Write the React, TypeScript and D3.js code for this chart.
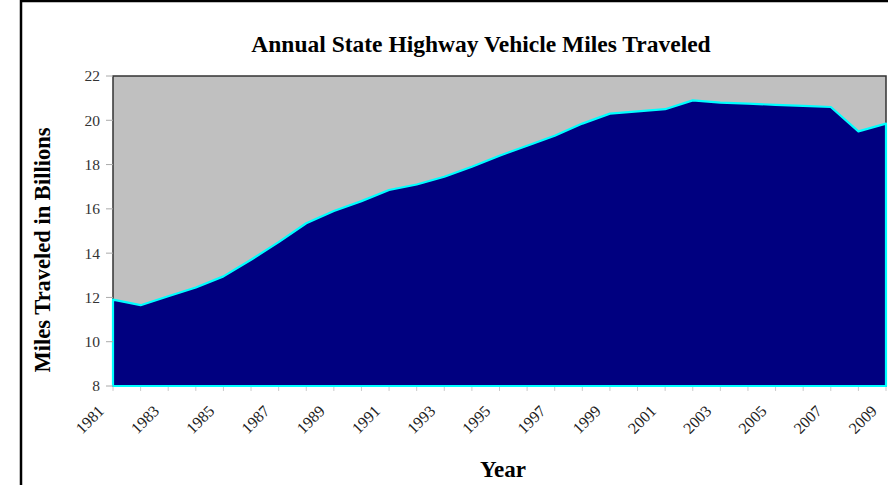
import React, { useEffect, useRef } from 'react';
import * as d3 from 'd3';

const years = d3.range(1981, 2010);
const milesBillions = [
  11.9, 11.65, 12.05, 12.45, 12.95, 13.7, 14.5, 15.35, 15.9, 16.35,
  16.85, 17.1, 17.45, 17.9, 18.4, 18.85, 19.3, 19.85, 20.3, 20.4,
  20.5, 20.9, 20.8, 20.75, 20.7, 20.65, 20.6, 19.5, 19.85,
];
const yTicks = [8, 10, 12, 14, 16, 18, 20, 22];
const xLabels = years.filter((y) => (y - 1981) % 2 === 0);

const chartTitle = 'Annual State Highway Vehicle Miles Traveled';
const yTitle = 'Miles Traveled in Billions';
const xTitle = 'Year';

const App = () => {
  const svgRef = useRef(null);

  useEffect(() => {
    const width = 888;
    const height = 485;
    const plot = { left: 113, top: 76, right: 886, bottom: 386 };
    const font = '"Liberation Serif", "Times New Roman", serif';

    const svg = d3.select(svgRef.current);
    svg.selectAll('*').remove();
    svg.attr('width', width).attr('height', height);

    // outer frame
    svg.append('rect')
      .attr('x', 21).attr('y', 1)
      .attr('width', 900).attr('height', 520)
      .attr('fill', 'white')
      .attr('stroke', 'black')
      .attr('stroke-width', 2.5);

    const x = d3.scalePoint().domain(years).range([plot.left, plot.right]);
    const y = d3.scaleLinear().domain([8, 22]).range([plot.bottom, plot.top]);

    // plot background
    svg.append('rect')
      .attr('x', plot.left).attr('y', plot.top)
      .attr('width', plot.right - plot.left)
      .attr('height', plot.bottom - plot.top)
      .attr('fill', '#c0c0c0')
      .attr('stroke', '#333')
      .attr('stroke-width', 1.5);

    const area = d3.area()
      .x((d, i) => x(years[i]))
      .y0(y(8))
      .y1((d) => y(d));

    svg.append('path')
      .datum(milesBillions)
      .attr('d', area)
      .attr('fill', '#000080')
      .attr('stroke', '#00ffff')
      .attr('stroke-width', 2.2)
      .attr('stroke-linejoin', 'round');

    // y axis ticks and labels
    const yg = svg.append('g');
    yg.selectAll('line')
      .data(yTicks)
      .enter()
      .append('line')
      .attr('x1', plot.left - 7).attr('x2', plot.left)
      .attr('y1', (d) => y(d)).attr('y2', (d) => y(d))
      .attr('stroke', '#aaa')
      .attr('stroke-width', 1);
    yg.selectAll('text')
      .data(yTicks)
      .enter()
      .append('text')
      .attr('x', plot.left - 13)
      .attr('y', (d) => y(d))
      .attr('dy', '0.35em')
      .attr('text-anchor', 'end')
      .style('font-family', font)
      .style('font-size', '15.5px')
      .attr('fill', '#333')
      .text((d) => d);

    // x axis ticks and labels
    const xg = svg.append('g');
    xg.selectAll('line')
      .data(years)
      .enter()
      .append('line')
      .attr('x1', (d) => x(d)).attr('x2', (d) => x(d))
      .attr('y1', plot.bottom + 1).attr('y2', plot.bottom + 5)
      .attr('stroke', '#ccc')
      .attr('stroke-width', 1);
    xg.selectAll('text')
      .data(xLabels)
      .enter()
      .append('text')
      .attr('transform', (d) => `translate(${x(d) - 8},${plot.bottom + 26}) rotate(-45)`)
      .attr('text-anchor', 'end')
      .style('font-family', font)
      .style('font-size', '16px')
      .attr('fill', '#222')
      .text((d) => d);

    svg.append('text')
      .attr('x', 481).attr('y', 52)
      .attr('text-anchor', 'middle')
      .style('font-family', font)
      .style('font-size', '23.5px')
      .style('font-weight', 'bold')
      .text(chartTitle);

    svg.append('text')
      .attr('transform', `translate(50,250) rotate(-90)`)
      .attr('text-anchor', 'middle')
      .style('font-family', font)
      .style('font-size', '22.5px')
      .style('font-weight', 'bold')
      .text(yTitle);

    svg.append('text')
      .attr('x', 503).attr('y', 477)
      .attr('text-anchor', 'middle')
      .style('font-family', font)
      .style('font-size', '23px')
      .style('font-weight', 'bold')
      .text(xTitle);
  }, []);

  return (
    <div style={{ position: 'absolute', left: 0, top: 0 }}>
      <svg ref={svgRef} style={{ display: 'block' }} />
    </div>
  );
};

export default App;
